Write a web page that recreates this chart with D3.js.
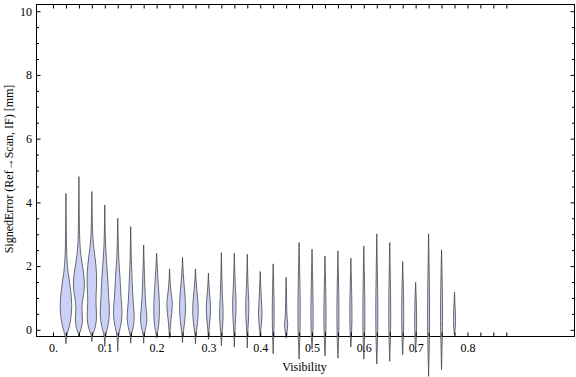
<!DOCTYPE html>
<html>
<head>
<meta charset="utf-8">
<script src="https://cdn.jsdelivr.net/npm/d3@7"></script>
<style>
  body { margin: 0; background: #fff; }
  svg text { font-family: 'Liberation Serif', 'Times New Roman', serif; font-size: 12px; fill: #000; }
</style>
</head>
<body>
<svg width="576" height="377"></svg>
<script>
var svg = d3.select('svg');

// visibility bins (one violin per bin)
var visibility = [0.025, 0.05, 0.075, 0.1, 0.125, 0.15, 0.175, 0.2, 0.225, 0.25,
    0.275, 0.3, 0.325, 0.35, 0.375, 0.4, 0.425, 0.45, 0.475, 0.5,
    0.525, 0.55, 0.575, 0.6, 0.625, 0.65, 0.675, 0.7, 0.725, 0.75, 0.775];

// smallest / largest signed error in each bin [mm]
var errMin = [-0.44, -0.21, -0.37, -0.52, -0.68, -0.42, -0.42, -0.26, -0.26, -0.40,
    -0.44, -0.30, -0.50, -0.54, -0.57, -0.21, -0.75, -0.26, -0.92, -0.60,
    -0.82, -0.89, -0.54, -0.92, -1.07, -0.99, -0.78, -0.71, -1.46, -1.25, -0.15];
var errMax = [4.28, 4.81, 4.34, 3.92, 3.50, 3.24, 2.66, 2.40, 1.91, 2.27,
    1.91, 1.78, 2.42, 2.40, 2.37, 1.83, 2.07, 1.65, 2.74, 2.53,
    2.32, 2.48, 2.25, 2.63, 3.01, 2.74, 2.14, 1.49, 3.01, 2.51, 1.18];

// density: [error, relative density]
var density = [
    [[-0.2, 0.08], [-0.05, 0.35], [0.3, 0.8], [0.8, 1.0], [1.3, 0.75], [1.8, 0.3], [2.3, 0.12], [3.0, 0.06]],
    [[-0.1, 0.1], [0.1, 0.5], [0.35, 0.62], [0.7, 0.42], [1.0, 0.65], [1.4, 1.0], [1.9, 0.7], [2.3, 0.3], [2.8, 0.12], [3.5, 0.06]],
    [[-0.15, 0.08], [0.0, 0.5], [0.4, 0.85], [0.85, 0.6], [1.3, 0.75], [1.8, 0.8], [2.3, 0.5], [2.8, 0.15], [3.5, 0.06]],
    [[-0.2, 0.06], [0.0, 0.4], [0.5, 0.85], [1.0, 0.6], [1.6, 0.5], [2.2, 0.25], [2.8, 0.08]],
    [[-0.2, 0.06], [0.05, 0.4], [0.5, 0.8], [1.0, 0.5], [1.6, 0.4], [2.2, 0.15], [2.8, 0.06]],
    [[-0.15, 0.06], [0.05, 0.4], [0.4, 0.65], [0.9, 0.35], [1.5, 0.25], [2.1, 0.1]],
    [[-0.15, 0.06], [0.05, 0.35], [0.35, 0.6], [0.8, 0.3], [1.3, 0.2], [1.9, 0.1]],
    [[-0.1, 0.1], [0.1, 0.35], [0.6, 0.5], [1.1, 0.4], [1.6, 0.2]],
    [[-0.05, 0.08], [0.3, 0.2], [0.8, 0.55], [1.2, 0.2], [1.5, 0.1]],
    [[-0.1, 0.08], [0.2, 0.35], [0.75, 0.55], [1.3, 0.3], [1.8, 0.1]],
    [[-0.1, 0.08], [0.2, 0.35], [0.65, 0.5], [1.1, 0.3], [1.5, 0.1]],
    [[0.0, 0.08], [0.3, 0.25], [0.7, 0.4], [1.1, 0.2], [1.4, 0.08]],
    [[-0.1, 0.08], [0.4, 0.35], [0.9, 0.2], [1.5, 0.1]],
    [[-0.1, 0.07], [0.3, 0.2], [0.8, 0.33], [1.3, 0.15]],
    [[-0.1, 0.06], [0.3, 0.2], [0.75, 0.3], [1.3, 0.12]],
    [[0.0, 0.1], [0.5, 0.35], [1.0, 0.15]],
    [[-0.2, 0.1], [0.5, 0.17], [1.2, 0.12]],
    [[-0.1, 0.1], [0.15, 0.33], [0.4, 0.1], [1.0, 0.08]],
    [[-0.4, 0.1], [0.3, 0.2], [1.0, 0.18], [1.8, 0.1]],
    [[-0.3, 0.1], [0.3, 0.2], [1.0, 0.16], [1.8, 0.08]],
    [[-0.3, 0.1], [0.4, 0.2], [1.1, 0.14], [1.7, 0.07]],
    [[-0.4, 0.1], [0.3, 0.18], [1.0, 0.15], [1.8, 0.07]],
    [[-0.2, 0.1], [0.4, 0.2], [1.1, 0.14], [1.7, 0.07]],
    [[-0.4, 0.1], [0.3, 0.18], [1.1, 0.15], [1.9, 0.07]],
    [[-0.5, 0.1], [0.3, 0.18], [1.2, 0.15], [2.1, 0.07]],
    [[-0.4, 0.1], [0.4, 0.18], [1.2, 0.14], [2.0, 0.07]],
    [[-0.3, 0.1], [0.4, 0.18], [1.1, 0.14], [1.6, 0.07]],
    [[-0.3, 0.1], [0.3, 0.18], [0.9, 0.12]],
    [[-0.8, 0.08], [0.2, 0.18], [1.2, 0.15], [2.2, 0.07]],
    [[-0.6, 0.08], [0.3, 0.18], [1.2, 0.14], [1.9, 0.07]],
    [[0.05, 0.12], [0.25, 0.2], [0.7, 0.1]]
];

// tick values
var xTicks = d3.range(0, 36).map(function (i) { return i * 0.025; });
var yMajor = [0, 2, 4, 6, 8, 10];
var yMinor = d3.range(1, 20).filter(function (i) { return i % 4 != 0; }).map(function (i) { return i * 0.5; });

// frame edges
var fLeft = 36.5, fRight = 574.5, fTop = 4.5, fBottom = 336.5;

var x = d3.scaleLinear().domain([0, 0.875]).range([53, 506.3]);
var y = d3.scaleLinear().domain([-0.21, 10.21]).range([fBottom, fTop]);
var w = d3.scaleLinear().domain([0, 1]).range([0, 6.2]);

// frame
svg.append('rect')
    .attr('x', fLeft).attr('y', fTop)
    .attr('width', fRight - fLeft).attr('height', fBottom - fTop)
    .attr('fill', 'none').attr('stroke', '#000').attr('stroke-width', 1);

// violins
var area = d3.area()
    .y(function (d) { return y(d[0]); })
    .x0(function (d) { return d.cx - w(d[1]); })
    .x1(function (d) { return d.cx + w(d[1]); })
    .curve(d3.curveBasis);

visibility.forEach(function (v, i) {
    var pts = [[errMin[i], 0]].concat(density[i], [[errMax[i], 0]]);
    pts.forEach(function (p) { p.cx = x(v); });
    svg.append('path')
        .attr('d', area(pts))
        .attr('fill', '#cbd1f6')
        .attr('stroke', '#333')
        .attr('stroke-opacity', 0.7)
        .attr('stroke-width', 1);
});

// axes (ticks point inward)
function clean(g) { g.select('.domain').remove(); g.selectAll('line').attr('stroke', '#000'); g.selectAll('text').attr('fill', '#000').attr('font-size', null).attr('font-family', null); }

svg.append('g')
    .attr('transform', 'translate(0,' + fBottom + ')')
    .call(d3.axisBottom(x).tickValues(xTicks).tickSize(-4).tickPadding(7)
        .tickFormat(function (d, i) { return i % 4 == 0 ? (i == 0 ? '0.' : d3.format('.1f')(d)) : ''; }))
    .call(clean);

svg.append('g')
    .attr('transform', 'translate(0,' + fTop + ')')
    .call(d3.axisTop(x).tickValues(xTicks).tickSize(-4).tickFormat(''))
    .call(clean);

svg.append('g')
    .attr('transform', 'translate(' + fLeft + ',0)')
    .call(d3.axisLeft(y).tickValues(yMajor).tickSize(-4).tickPadding(4.5).tickFormat(d3.format('d')))
    .call(clean);
svg.append('g')
    .attr('transform', 'translate(' + fLeft + ',0)')
    .call(d3.axisLeft(y).tickValues(yMinor).tickSize(-2.5).tickFormat(''))
    .call(clean);

svg.append('g')
    .attr('transform', 'translate(' + fRight + ',0)')
    .call(d3.axisRight(y).tickValues(yMajor).tickSize(-4).tickFormat(''))
    .call(clean);
svg.append('g')
    .attr('transform', 'translate(' + fRight + ',0)')
    .call(d3.axisRight(y).tickValues(yMinor).tickSize(-2.5).tickFormat(''))
    .call(clean);

// axis titles
svg.append('text')
    .attr('x', 304.5).attr('y', 371)
    .attr('text-anchor', 'middle')
    .text('Visibility');

svg.append('text')
    .attr('transform', 'translate(12.5,169) rotate(-90)')
    .attr('text-anchor', 'middle')
    .text('SignedError (Ref\u2192Scan, IF) [mm]');
</script>
</body>
</html>
